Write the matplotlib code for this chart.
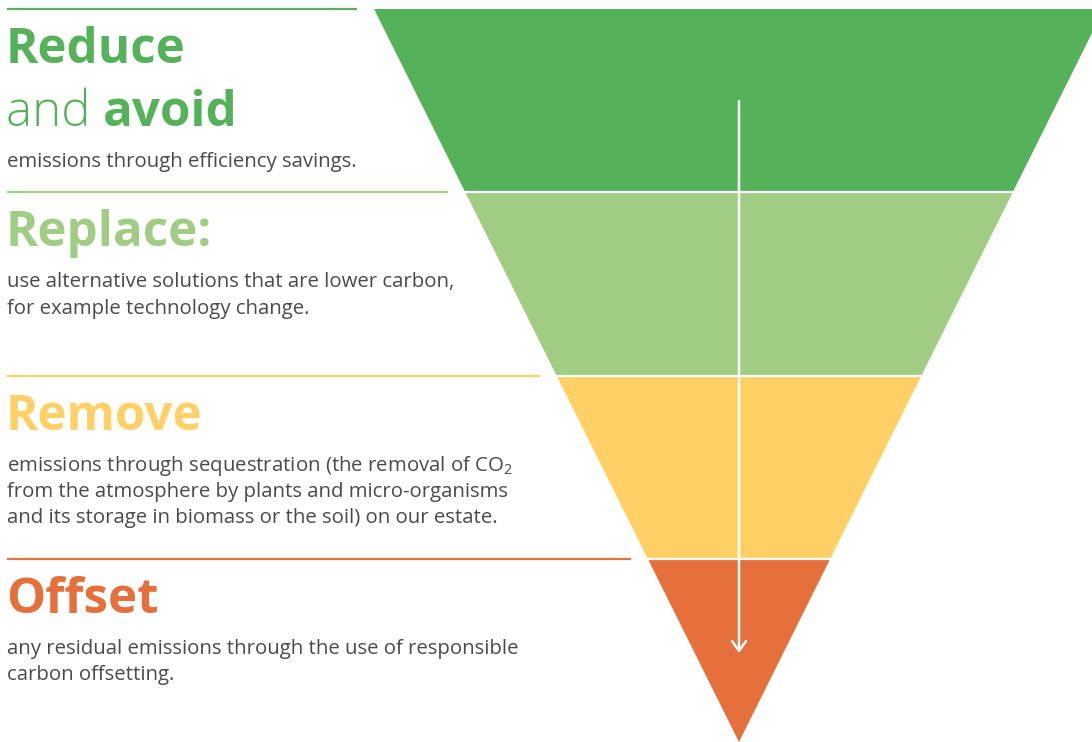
"""
carbon reduction hierarchy drawn as an inverted funnel
"""
import matplotlib.pyplot as plt
from matplotlib.patches import Polygon

plt.rcParams["font.family"] = ["Open Sans", "DejaVu Sans"]
plt.rcParams["mathtext.fontset"] = "custom"
plt.rcParams["mathtext.rm"] = "Open Sans"

# stages, top to bottom
stages = ["Reduce", "Replace:", "Remove", "Offset"]
colors = ["#56B25A", "#A1CC84", "#FFD066", "#E5703C"]
descriptions = [
    ["emissions through efficiency savings."],
    ["use alternative solutions that are lower carbon,",
     "for example technology change."],
    ["emissions through sequestration (the removal of CO$_\\mathregular{2}$",
     "from the atmosphere by plants and micro-organisms",
     "and its storage in biomass or the soil) on our estate."],
    ["any residual emissions through the use of responsible",
     "carbon offsetting."],
]
text_grey = "#4A4A4A"

W, H = 1092, 742
fig = plt.figure(figsize=(W / 100, H / 100), dpi=100)
ax = fig.add_axes([0, 0, 1, 1])
ax.set_xlim(0, W)
ax.set_ylim(H, 0)
ax.axis("off")

# funnel geometry (pixels)
top_y, apex_x, apex_y = 9, 739, 742
half_top = 365
band_h = (apex_y - top_y) / len(stages)


def half_width(y):
    return half_top * (apex_y - y) / (apex_y - top_y)


for i, (name, col, desc) in enumerate(zip(stages, colors, descriptions)):
    y0 = top_y + i * band_h
    y1 = y0 + band_h
    w0, w1 = half_width(y0), half_width(y1)
    ax.add_patch(Polygon([(apex_x - w0, y0), (apex_x + w0, y0),
                          (apex_x + w1, y1), (apex_x - w1, y1)],
                         closed=True, facecolor=col, edgecolor="none"))
    if i > 0:
        ax.plot([apex_x - w0, apex_x + w0], [y0, y0], color="white", lw=1.6)

    # rule on the left
    ax.plot([7, apex_x - w0 - 17], [y0, y0], color=col, lw=1.6,
            solid_capstyle="butt")

    # heading
    base = y0 + 54
    ax.text(6, base, name, color=col, fontsize=35.5, fontweight="bold",
            va="baseline", ha="left")
    if i == 0:
        base += 63
        t = ax.text(6, base, "and ", color=col, fontsize=35.5,
                    fontweight="light", va="baseline", ha="left")
        ax.annotate("avoid", xycoords=t, xy=(1, 0), va="bottom",
                    color=col, fontsize=35.5, fontweight="bold",
                    annotation_clip=False)
    # description
    line_y = base + 41
    for line in desc:
        ax.text(7, line_y, line, color=text_grey, fontsize=14.7,
                va="baseline", ha="left")
        line_y += 26.5

# downward arrow through the funnel
ax.annotate("", xy=(apex_x, 653), xytext=(apex_x, 101),
            arrowprops=dict(arrowstyle="->,head_length=0.7,head_width=0.5",
                            color="white", lw=1.8, shrinkA=0, shrinkB=0))

fig.savefig("out.png", dpi=100)
